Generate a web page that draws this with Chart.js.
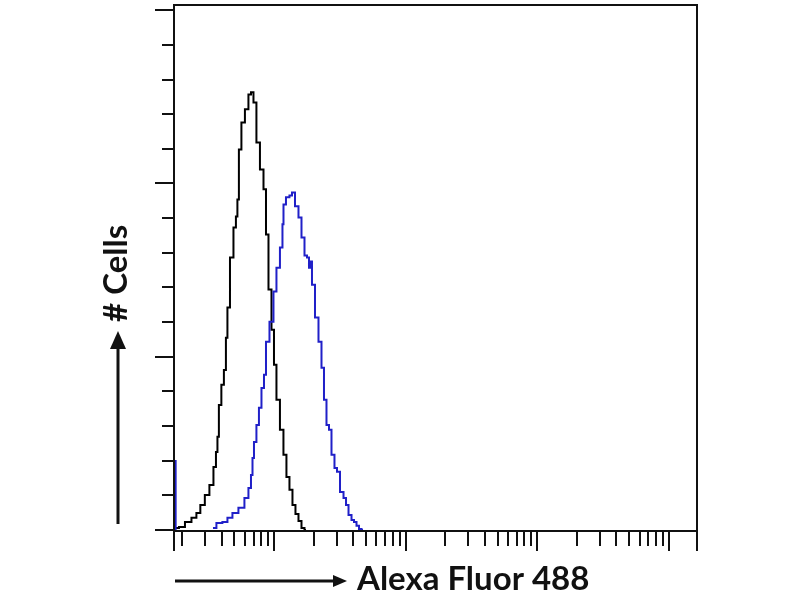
<!DOCTYPE html>
<html>
<head>
<meta charset="utf-8">
<script src="https://cdn.jsdelivr.net/npm/chart.js@4.4.1/dist/chart.umd.min.js"></script>
<style>
    html, body { margin: 0; padding: 0; background: #fff; }
    #wrap { position: relative; width: 800px; height: 600px; }
</style>
</head>
<body>
<div id="wrap"><canvas id="histChart"></canvas></div>
<script>
// intensity (log axis) and event counts
var blackX = [1.80, 2.00, 2.22, 2.51, 2.64, 2.88, 3.09, 3.38, 3.56, 3.69, 3.75, 3.88, 4.09, 4.24, 4.39,
    4.47, 4.80, 5.05, 5.23, 5.32, 5.51, 5.81, 6.23, 6.57, 6.81, 7.17, 7.55, 8.11, 8.55, 8.85,
    9.33, 9.83, 10.18, 10.72, 11.50, 12.12, 12.77, 13.47, 14.19, 14.96, 15.77, 16.62, 17.52];
var blackY = [0.6, 0.9, 2.3, 3.5, 4.9, 7.2, 10.1, 13.0, 18.2, 22.5, 26.9, 36.1, 41.9, 46.2, 55.5,
    64.2, 78.6, 87.3, 90.5, 95.4, 109.8, 117.6, 121.4, 125.7, 126.3, 123.4, 111.8, 104.0, 98.3, 85.3,
    69.4, 57.8, 47.7, 37.6, 28.9, 21.7, 15.3, 11.6, 7.2, 4.6, 2.6, 0.6, 0];

var blueX = [1.79, 1.79, 2.6, 3.44, 3.88, 4.24, 4.63, 5.05, 5.71, 6.23, 6.57, 6.81, 6.93, 7.17, 7.55,
    7.83, 8.25, 8.55, 8.85, 9.66, 10.18, 10.72, 11.50, 11.71, 11.92, 12.77, 13.47, 13.95, 14.96, 15.77,
    16.62, 17.52, 18.14, 18.78, 19.11, 19.80, 21.23, 22.38, 23.58, 24.42, 25.74, 26.66, 28.09, 29.60, 30.66,
    32.90, 34.67, 35.91, 37.84, 39.88, 41.30, 43.52, 45.08, 47.51];
var blueY = [20.2, 0, null, 0.6, 2.0, 2.3, 3.5, 4.9, 6.4, 9.2, 12.1, 15.9, 20.8, 25.4, 30.3,
    35.3, 41.0, 44.8, 54.3, 60.1, 68.8, 75.7, 81.5, 88.2, 93.9, 96.0, 96.5, 97.4, 93.4, 90.2,
    84.4, 79.2, 78.6, 75.7, 77.5, 70.8, 61.3, 54.3, 46.8, 37.6, 30.3, 28.9, 21.7, 17.9, 16.8,
    11.0, 9.2, 7.2, 4.3, 2.9, 2.3, 1.2, 0.3, 0];

// axes (no tick labels in the original)
var yTickValues = [0, 10, 20, 30, 40, 50, 60, 70, 80, 90, 100, 110, 120, 130, 140, 150];
var yMajorEvery = 50;
var xDecades = [1, 10, 100, 1000, 10000];
var xMin = 1.77, xMax = 16400;
var yMax = 151.5;
var xTitle = 'Alexa Fluor 488';
var yTitle = '# Cells';

function toPoints(xs, ys) {
    return xs.map(function (x, i) { return { x: x, y: ys[i] }; });
}

// frame, ticks, arrows and axis titles
var framePlugin = {
    id: 'frame',
    afterDraw: function (chart) {
        var ctx = chart.ctx;
        var a = chart.chartArea;
        var xs = chart.scales.x, ys = chart.scales.y;
        ctx.save();
        ctx.strokeStyle = '#111';
        ctx.fillStyle = '#111';
        ctx.lineWidth = 2;
        ctx.strokeRect(a.left - 1, a.top, a.right - a.left + 1, a.bottom - a.top + 1);

        ctx.beginPath();
        yTickValues.forEach(function (v) {
            var py = Math.round(ys.getPixelForValue(v));
            var len = v % yMajorEvery === 0 ? 19 : 12;
            ctx.moveTo(a.left - 1 - len, py);
            ctx.lineTo(a.left, py);
        });
        xDecades.forEach(function (d) {
            for (var m = 1; m <= 9; m++) {
                var v = m * d;
                if (v < xMin || v > xMax) continue;
                var px = Math.round(xs.getPixelForValue(v));
                var len = m === 1 ? 21 : 16;
                ctx.moveTo(px, a.bottom);
                ctx.lineTo(px, a.bottom + len);
            }
        });
        ctx.moveTo(a.left - 1, a.bottom);
        ctx.lineTo(a.left - 1, a.bottom + 21);
        ctx.moveTo(a.right, a.bottom);
        ctx.lineTo(a.right, a.bottom + 21);
        ctx.stroke();

        // x title arrow
        var ay = 581;
        ctx.lineWidth = 3;
        ctx.beginPath();
        ctx.moveTo(a.left, ay);
        ctx.lineTo(a.left + 160, ay);
        ctx.stroke();
        ctx.beginPath();
        ctx.moveTo(a.left + 172, ay);
        ctx.lineTo(a.left + 158, ay - 6);
        ctx.lineTo(a.left + 158, ay + 6);
        ctx.closePath();
        ctx.fill();

        ctx.font = 'bold 33px Lato';
        ctx.textAlign = 'left';
        ctx.textBaseline = 'middle';
        ctx.fillText(xTitle, 357, 579);

        // y title arrow
        var ax = 118;
        ctx.beginPath();
        ctx.moveTo(ax, 524);
        ctx.lineTo(ax, 345);
        ctx.stroke();
        ctx.beginPath();
        ctx.moveTo(ax, 331);
        ctx.lineTo(ax - 8, 349);
        ctx.lineTo(ax + 8, 349);
        ctx.closePath();
        ctx.fill();

        ctx.translate(116, 322);
        ctx.rotate(-Math.PI / 2);
        ctx.fillText(yTitle, 0, 0);
        ctx.restore();
    }
};

new Chart(document.getElementById('histChart'), {
    type: 'line',
    data: {
        datasets: [
            {
                label: 'sample',
                data: toPoints(blueX, blueY),
                borderColor: '#2020c8',
                borderWidth: 2,
                stepped: 'middle',
                pointRadius: 0,
                spanGaps: false,
                fill: false
            },
            {
                label: 'control',
                data: toPoints(blackX, blackY),
                borderColor: '#000000',
                borderWidth: 2,
                stepped: 'middle',
                pointRadius: 0,
                fill: false
            }
        ]
    },
    options: {
        responsive: true,
        maintainAspectRatio: false,
        animation: false,
        layout: { padding: { left: 175, right: 103, top: 5, bottom: 70 } },
        plugins: {
            legend: { display: false },
            tooltip: { enabled: false }
        },
        scales: {
            x: { type: 'logarithmic', min: xMin, max: xMax, bounds: 'data', display: false },
            y: { type: 'linear', min: 0, max: yMax, display: false }
        }
    },
    plugins: [framePlugin]
});
</script>
</body>
</html>
